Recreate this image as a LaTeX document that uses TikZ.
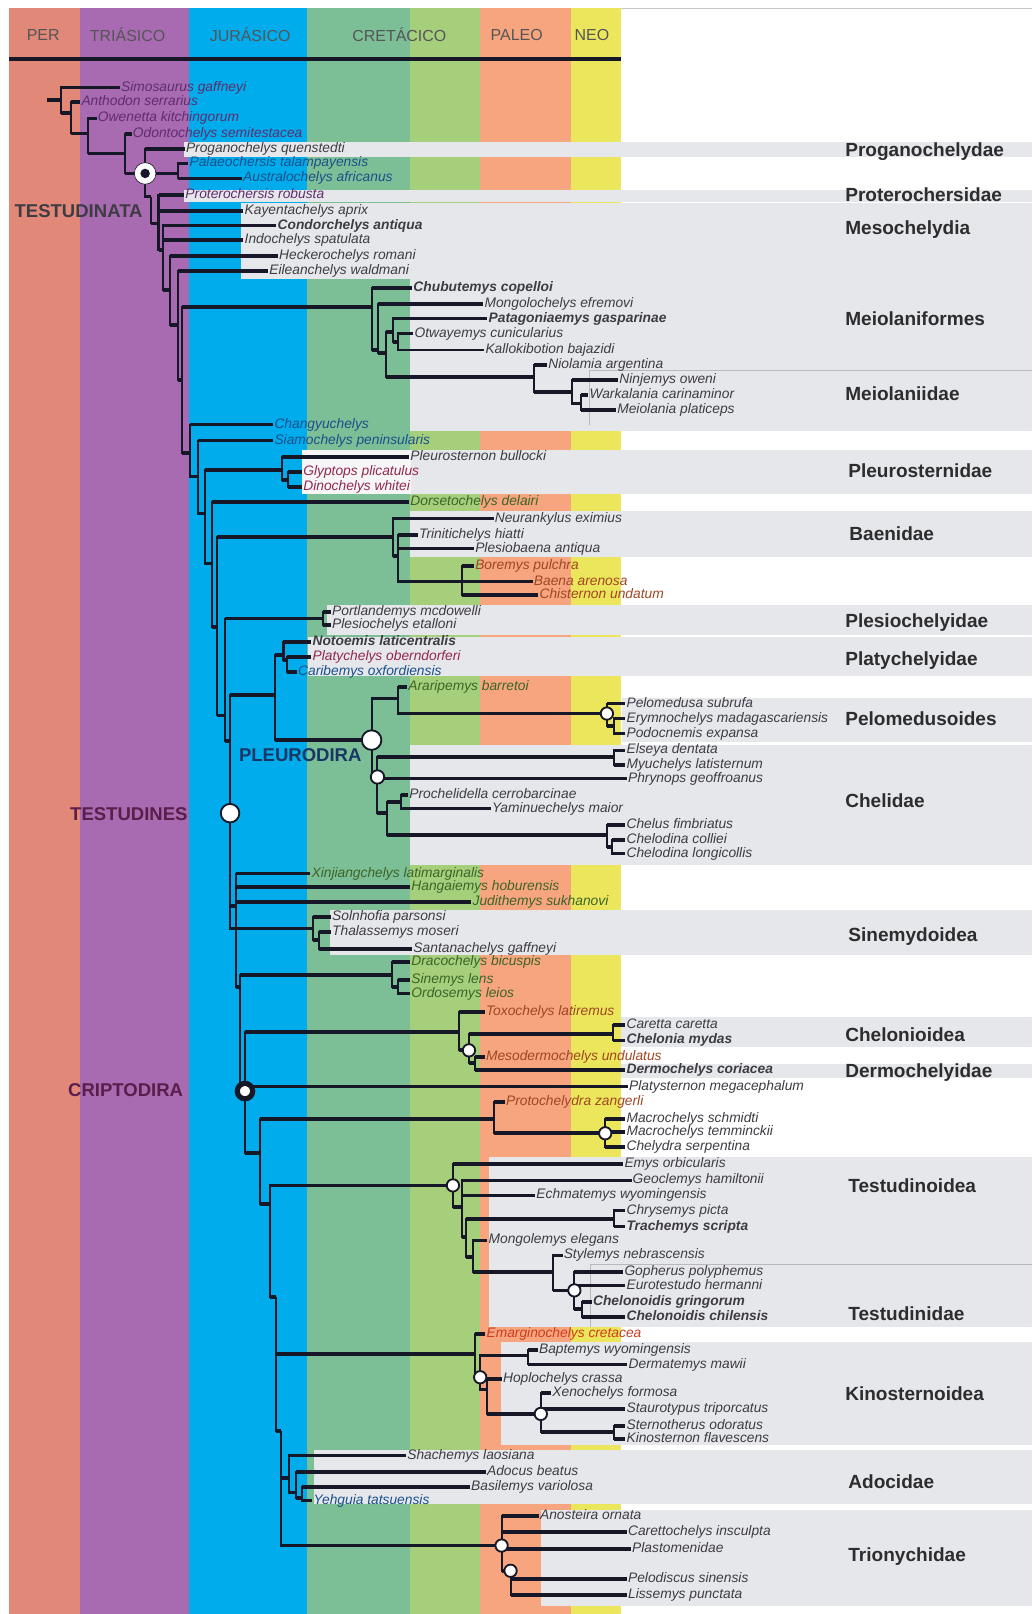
\documentclass[tikz,border=0pt]{standalone}
\usepackage{fontspec}
\setmainfont{Liberation Sans}
\definecolor{cper}{RGB}{226,136,120}
\definecolor{ctri}{RGB}{168,106,176}
\definecolor{cjur}{RGB}{0,172,236}
\definecolor{ccra}{RGB}{124,190,150}
\definecolor{ccrb}{RGB}{166,207,124}
\definecolor{cpal}{RGB}{246,165,127}
\definecolor{cneo}{RGB}{236,230,92}
\definecolor{cgry}{RGB}{230,231,234}
\definecolor{cwht}{RGB}{246,246,247}
\definecolor{lc}{RGB}{22,24,40}
\definecolor{txd}{RGB}{60,60,66}
\definecolor{txp}{RGB}{95,45,110}
\definecolor{txb}{RGB}{25,80,140}
\definecolor{txg}{RGB}{60,100,40}
\definecolor{txo}{RGB}{160,70,35}
\definecolor{txr}{RGB}{145,40,80}
\definecolor{txe}{RGB}{205,60,30}
\definecolor{txc}{RGB}{45,45,48}
\definecolor{txh}{RGB}{85,85,88}
\definecolor{txm}{RGB}{90,30,75}
\definecolor{txn}{RGB}{25,55,100}
\tikzset{
 vt/.style={draw=lc, line width=2pt},
 hz/.style={draw=lc, line width=3.6pt},
 lab/.style={anchor=west, inner sep=1pt, text height=9.6pt, text depth=2.6pt, font=\fontsize{13.4}{15}\selectfont\itshape, text=txd},
 labb/.style={lab, font=\fontsize{13.4}{15}\selectfont\itshape\bfseries},
 clade/.style={anchor=west, inner sep=0pt, text height=13.3pt, text depth=2.3pt, font=\fontsize{18.5}{20}\selectfont\bfseries, text=txc},
 grp/.style={anchor=west, inner sep=0pt, text height=13pt, text depth=0pt, font=\fontsize{18}{20}\selectfont\bfseries},
 hdr/.style={inner sep=0pt, font=\fontsize{15.5}{17}\selectfont, text=txh},
 dot/.style={circle, draw=lc, fill=white, line width=1.8pt, inner sep=0pt, minimum size=#1},
}
\newcommand{\tedge}[2]{\draw[vt] (#1) |- (#2);\draw[hz] (#1 |- #2) -- (#2);}
\newcommand{\nedge}[2]{\draw[vt] (#1) |- (#2);}
\begin{document}
\begin{tikzpicture}[x=1pt,y=-1pt]
\useasboundingbox (0,0) rectangle (1003,1568);
\fill[white] (0,0) rectangle (1003,1568);
% time bands
\fill[cper] (9,8) rectangle (78,1568);
\fill[ctri] (78,8) rectangle (184,1568);
\fill[cjur] (184,8) rectangle (298,1568);
\fill[ccra] (298,8) rectangle (398,1568);
\fill[ccrb] (398,8) rectangle (466,1568);
\fill[cpal] (466,8) rectangle (555,1568);
\fill[cneo] (555,8) rectangle (603,1568);
\draw[gray!45, line width=0.8pt] (603,8.4) -- (1003,8.4);
% clade boxes
\fill[cgry] (179,138) rectangle (1003,152.5);
\fill[cgry] (179,184.5) rectangle (1003,196);
\fill[cgry] (234,197.5) rectangle (1003,271);
\fill[cgry] (398,271) rectangle (1003,419);
\fill[cwht] (293,437) rectangle (399,480);
\fill[cgry] (399,437) rectangle (1003,480);
\fill[cgry] (398,496) rectangle (1003,541);
\fill[cgry] (318,588) rectangle (1003,616.5);
\fill[cgry] (299,618.5) rectangle (1003,656.5);
\fill[cgry] (604,678.5) rectangle (1003,720.5);
\fill[cgry] (398,724) rectangle (1003,840);
\fill[cgry] (321,884.5) rectangle (1003,928);
\fill[cgry] (603.5,988) rectangle (1003,1017);
\fill[cgry] (603.5,1034) rectangle (1003,1047);
\fill[cgry] (475,1124) rectangle (1003,1289);
\fill[cgry] (487,1304) rectangle (1003,1404);
\fill[cgry] (305,1409) rectangle (1003,1461);
\fill[cgry] (526,1467) rectangle (1003,1560);
\draw[gray!55, line width=0.8pt] (1003,360) -- (573,360) -- (573,413);
\draw[gray!55, line width=0.8pt] (1003,1228) -- (574,1228) -- (574,1289);
% header
\node[hdr] (hper) at (42,34) {PER};
\node[hdr] (htri) at (124,34) {TRIÁSICO};
\node[hdr] (hjur) at (243,34) {JURÁSICO};
\node[hdr] (hcre) at (388,34) {CRETÁCICO};
\node[hdr] (hpal) at (502,34) {PALEO};
\node[hdr] (hneo) at (575,34) {NEO};
\draw[draw=lc, line width=3.8pt] (9,57.5) -- (603,57.5);
% clade names (right)
\node[clade] (kA) at (821,147) {Proganochelydae};
\node[clade] (kB) at (821,190) {Proterochersidae};
\node[clade] (kC) at (821,222) {Mesochelydia};
\node[clade] (kD) at (821,311) {Meiolaniformes};
\node[clade] (kE) at (821,384) {Meiolaniidae};
\node[clade] (kF) at (824,458) {Pleurosternidae};
\node[clade] (kG) at (825,520) {Baenidae};
\node[clade] (kH) at (821,604) {Plesiochelyidae};
\node[clade] (kI) at (821,641) {Platychelyidae};
\node[clade] (kJ) at (821,699) {Pelomedusoides};
\node[clade] (kK) at (821,779) {Chelidae};
\node[clade] (kL) at (824,909) {Sinemydoidea};
\node[clade] (kM) at (821,1006) {Chelonioidea};
\node[clade] (kN) at (821,1041) {Dermochelyidae};
\node[clade] (kO) at (824,1153) {Testudinoidea};
\node[clade] (kP) at (824,1277) {Testudinidae};
\node[clade] (kQ) at (821,1355) {Kinosternoidea};
\node[clade] (kR) at (824,1441) {Adocidae};
\node[clade] (kS) at (824,1511) {Trionychidae};
% big group labels
\node[grp, text=txd] (gA) at (14,205) {TESTUDINATA};
\node[grp, text=txm] (gB) at (68,791) {TESTUDINES};
\node[grp, text=txn] (gC) at (232,733) {PLEURODIRA};
\node[grp, text=txm] (gD) at (66,1059) {CRIPTODIRA};
% internal nodes
\coordinate (root) at (45.5,97);
\coordinate (R0) at (59.5,97);
\coordinate (R1) at (69.4,110);
\coordinate (R2) at (85.3,129.6);
\coordinate (R3) at (121,149);
\coordinate (E) at (141,168.5);
\coordinate (PA) at (172.6,168.5);
\coordinate (F) at (147,191);
\coordinate (F2) at (154,217);
\coordinate (F3) at (158.7,243);
\coordinate (F4) at (165,282);
\coordinate (F5) at (173.3,316);
\coordinate (F6) at (176.6,369);
\coordinate (M1) at (361,298);
\coordinate (M2) at (367.6,340);
\coordinate (M3) at (374.6,343);
\coordinate (M4) at (381.7,322.3);
\coordinate (M4b) at (386.9,332);
\coordinate (M5) at (518.9,366);
\coordinate (M6) at (555.5,380.6);
\coordinate (M7) at (564.2,392);
\coordinate (F7) at (184.6,440);
\coordinate (F8) at (192.7,463);
\coordinate (F9) at (199,499);
\coordinate (PS) at (273.7,456.8);
\coordinate (GD) at (280.2,466.5);
\coordinate (F10) at (205.7,547.5);
\coordinate (F11) at (210.6,609);
\coordinate (BA1) at (381.7,521.5);
\coordinate (BA2) at (387.1,540);
\coordinate (BB) at (448.6,565);
\coordinate (F12) at (218.7,695);
\coordinate (PY) at (314,601);
\coordinate (T) at (223.5,720);
\coordinate (PL0) at (267.3,675.4);
\coordinate (PC1) at (275.4,636.5);
\coordinate (PC2) at (278.6,641.4);
\coordinate (PL) at (361,719);
\coordinate (PE1) at (387.1,678.6);
\coordinate (PE2) at (589.6,693.2);
\coordinate (PE3) at (596.3,705);
\coordinate (CE) at (366.7,754.8);
\coordinate (EM) at (596.3,735.3);
\coordinate (CE2) at (376,790);
\coordinate (PR) at (389.9,779);
\coordinate (CC) at (590,811.5);
\coordinate (CC2) at (594.3,823);
\coordinate (CU) at (229,880);
\coordinate (SI) at (303.8,902);
\coordinate (SI2) at (309.6,913);
\coordinate (CU2) at (233,959);
\coordinate (DR) at (380.7,947);
\coordinate (DR2) at (386.4,959);
\coordinate (CR) at (238,1060);
\coordinate (CH1) at (446,1002.6);
\coordinate (CH2) at (455.6,1020.4);
\coordinate (CM) at (595.7,1004.2);
\coordinate (CH3) at (461.3,1033);
\coordinate (CR2) at (253,1120);
\coordinate (CD) at (480.3,1086.8);
\coordinate (CD2) at (588,1101);
\coordinate (CR3) at (262,1170);
\coordinate (TE1) at (440,1151.6);
\coordinate (TE2) at (449,1172.7);
\coordinate (TE3) at (452.6,1201.8);
\coordinate (CT) at (596.6,1184);
\coordinate (TE4) at (459.6,1221);
\coordinate (TD) at (537.6,1236);
\coordinate (TD2) at (558,1253.6);
\coordinate (CN) at (565.4,1272);
\coordinate (CR4) at (268,1260);
\coordinate (K1) at (461.2,1315.2);
\coordinate (K2) at (466.5,1338);
\coordinate (BD) at (513.3,1316.8);
\coordinate (K3) at (473.3,1350);
\coordinate (K4) at (525.4,1373.6);
\coordinate (SK) at (596.6,1391.3);
\coordinate (CR5) at (273,1390);
\coordinate (AD1) at (281,1436);
\coordinate (AD2) at (287.7,1450);
\coordinate (AD3) at (293,1455);
\coordinate (TR1) at (487.3,1501.5);
\coordinate (TR2) at (496,1526);
% taxa
\node[lab,text=txp] (simo) at (116.5,85) {Simosaurus gaffneyi};
\node[lab,text=txp] (anth) at (78,98.8) {Anthodon serrarius};
\node[lab,text=txp] (owen) at (94,115) {Owenetta kitchingorum};
\node[lab,text=txp] (odon) at (128,130) {Odontochelys semitestacea};
\node[lab] (prog) at (179.5,144.5) {Proganochelys quenstedti};
\node[lab,text=txb] (pala) at (183,158.7) {Palaeochersis talampayensis};
\node[lab,text=txb] (aust) at (235,173.3) {Australochelys africanus};
\node[lab,text=txp] (prot) at (179,189.5) {Proterochersis robusta};
\node[lab] (kay) at (236.5,205) {Kayentachelys aprix};
\node[labb] (cond) at (268.5,219) {Condorchelys antiqua};
\node[lab] (indo) at (236.5,233.5) {Indochelys spatulata};
\node[lab] (heck) at (270,249) {Heckerochelys romani};
\node[lab] (eile) at (260.5,263.5) {Eileanchelys waldmani};
\node[labb] (chub) at (400.5,280) {Chubutemys copelloi};
\node[lab] (mong) at (469.5,295) {Mongolochelys efremovi};
\node[labb] (pata) at (473.5,309.4) {Patagoniaemys gasparinae};
\node[lab] (otwa) at (401.5,324) {Otwayemys cunicularius};
\node[lab] (kall) at (470.5,340) {Kallokibotion bajazidi};
\node[lab] (niol) at (531.5,354.7) {Niolamia argentina};
\node[lab] (ninj) at (600.5,369.3) {Ninjemys oweni};
\node[lab] (wark) at (571.5,384) {Warkalania carinaminor};
\node[lab] (meio) at (598.5,398.4) {Meiolania platiceps};
\node[lab,text=txb] (chan) at (265.5,412.5) {Changyuchelys};
\node[lab,text=txb] (siam) at (265.5,428) {Siamochelys peninsularis};
\node[lab] (pleu) at (397.5,443.8) {Pleurosternon bullocki};
\node[lab,text=txr] (glyp) at (293.5,458.4) {Glyptops plicatulus};
\node[lab,text=txr] (dino) at (293.5,473) {Dinochelys whitei};
\node[lab,text=txg] (dors) at (397.5,487.5) {Dorsetochelys delairi};
\node[lab] (neur) at (479.5,503.7) {Neurankylus eximius};
\node[lab] (trin) at (406,519.5) {Trinitichelys hiatti};
\node[lab] (ples) at (460.5,532.9) {Plesiobaena antiqua};
\node[lab,text=txo] (bore) at (460.5,549.6) {Boremys pulchra};
\node[lab,text=txo] (baen) at (517.5,565) {Baena arenosa};
\node[lab,text=txo] (chis) at (523,578) {Chisternon undatum};
\node[lab] (port) at (321.5,594.4) {Portlandemys mcdowelli};
\node[lab] (plsc) at (321.5,607.4) {Plesiochelys etalloni};
\node[labb] (noto) at (302.5,623.6) {Notoemis laticentralis};
\node[lab,text=txr] (plat) at (302.5,638.2) {Platychelys oberndorferi};
\node[lab,text=txb] (cari) at (288.5,652.7) {Caribemys oxfordiensis};
\node[lab,text=txg] (arar) at (395.5,667.3) {Araripemys barretoi};
\node[lab] (pelo) at (607.5,683.5) {Pelomedusa subrufa};
\node[lab] (erym) at (607.5,698) {Erymnochelys madagascariensis};
\node[lab] (podo) at (607.5,712.7) {Podocnemis expansa};
\node[lab] (else) at (607.5,729) {Elseya dentata};
\node[lab] (myuc) at (607.5,743.4) {Myuchelys latisternum};
\node[lab] (phry) at (609,756.4) {Phrynops geoffroanus};
\node[lab] (proc) at (396.5,772.6) {Prochelidella cerrobarcinae};
\node[lab] (yami) at (477,785.5) {Yaminuechelys maior};
\node[lab] (chel) at (607.5,801.7) {Chelus fimbriatus};
\node[lab] (chco) at (607.5,816.3) {Chelodina colliei};
\node[lab] (chlo) at (607.5,829.3) {Chelodina longicollis};
\node[lab,text=txg] (xinj) at (301.5,848.7) {Xinjiangchelys latimarginalis};
\node[lab,text=txg] (hang) at (398.5,861.7) {Hangaiemys hoburensis};
\node[lab,text=txg] (judi) at (458,876) {Judithemys sukhanovi};
\node[lab] (soln) at (321.5,890.8) {Solnhofia parsonsi};
\node[lab] (thal) at (321.5,905.4) {Thalassemys moseri};
\node[lab] (sant) at (400.5,921.6) {Santanachelys gaffneyi};
\node[lab,text=txg] (drac) at (398.5,934.6) {Dracochelys bicuspis};
\node[lab,text=txg] (sine) at (398.5,952.4) {Sinemys lens};
\node[lab,text=txg] (ordo) at (398.5,965.3) {Ordosemys leios};
\node[lab,text=txo] (toxo) at (471,983.2) {Toxochelys latiremus};
\node[lab] (care) at (607.5,995.5) {Caretta caretta};
\node[labb] (chmy) at (607.5,1010.7) {Chelonia mydas};
\node[lab,text=txo] (meso) at (471,1026.9) {Mesodermochelys undulatus};
\node[labb] (derm) at (607.5,1039.8) {Dermochelys coriacea};
\node[lab] (plsn) at (610,1055.5) {Platysternon megacephalum};
\node[lab,text=txo] (proz) at (490.5,1070.6) {Protochelydra zangerli};
\node[lab] (masc) at (607.5,1086.8) {Macrochelys schmidti};
\node[lab] (mate) at (607.5,1099.8) {Macrochelys temminckii};
\node[lab] (chse) at (607.5,1114.4) {Chelydra serpentina};
\node[lab] (emys) at (605.5,1130.5) {Emys orbicularis};
\node[lab] (geoc) at (613.5,1146.7) {Geoclemys hamiltonii};
\node[lab] (echm) at (520,1161.3) {Echmatemys wyomingensis};
\node[lab] (chry) at (607.5,1176) {Chrysemys picta};
\node[labb] (trac) at (607.5,1191.5) {Trachemys scripta};
\node[lab] (mngl) at (473.5,1205) {Mongolemys elegans};
\node[lab] (styl) at (546.5,1219.6) {Stylemys nebrascensis};
\node[lab] (goph) at (605.5,1235.8) {Gopherus polyphemus};
\node[lab] (euro) at (607.5,1248.8) {Eurotestudo hermanni};
\node[labb] (chgr) at (575,1265) {Chelonoidis gringorum};
\node[labb] (chch) at (607.5,1279.6) {Chelonoidis chilensis};
\node[lab,text=txe] (emar) at (471.5,1295.7) {Emarginochelys cretacea};
\node[lab] (bapt) at (522.5,1311.5) {Baptemys wyomingensis};
\node[lab] (dmaw) at (609.5,1325.5) {Dermatemys mawii};
\node[lab] (hopl) at (487.5,1339.5) {Hoplochelys crassa};
\node[lab] (xeno) at (535.5,1353) {Xenochelys formosa};
\node[lab] (stau) at (607.5,1368.8) {Staurotypus triporcatus};
\node[lab] (ster) at (607.5,1385.5) {Sternotherus odoratus};
\node[lab] (kino) at (607.5,1398) {Kinosternon flavescens};
\node[lab] (shac) at (394.5,1414) {Shachemys laosiana};
\node[lab] (adoc) at (472,1430) {Adocus beatus};
\node[lab] (basi) at (456.5,1444.8) {Basilemys variolosa};
\node[lab,text=txb] (yehg) at (303.5,1457.7) {Yehguia tatsuensis};
\node[lab] (anos) at (523.5,1472.8) {Anosteira ornata};
\node[lab] (cart) at (609,1488.5) {Carettochelys insculpta};
\node[lab] (plas) at (613,1504.5) {Plastomenidae};
\node[lab] (peld) at (609,1534.2) {Pelodiscus sinensis};
\node[lab] (liss) at (609,1549.3) {Lissemys punctata};
% branches
\draw[hz] (root) -- (R0);
\tedge{R0}{simo} \tedge{R0}{R1}
\tedge{R1}{anth} \tedge{R1}{R2}
\tedge{R2}{owen} \tedge{R2}{R3}
\tedge{R3}{odon} \tedge{R3}{E}
\tedge{E}{prog} \tedge{E}{PA} \tedge{E}{F}
\tedge{PA}{pala} \tedge{PA}{aust}
\tedge{F}{F2}
\tedge{F2}{prot} \tedge{F2}{kay} \tedge{F2}{F3}
\tedge{F3}{cond} \tedge{F3}{indo} \tedge{F3}{F4}
\tedge{F4}{heck} \tedge{F4}{F5}
\tedge{F5}{eile} \tedge{F5}{F6}
\tedge{F6}{M1} \tedge{F6}{F7}
\tedge{M1}{chub} \tedge{M1}{M2}
\tedge{M2}{mong} \tedge{M2}{M3}
\tedge{M3}{M4} \tedge{M3}{M5}
\tedge{M4}{pata} \tedge{M4}{M4b}
\tedge{M4b}{otwa} \nedge{M4b}{kall}
\tedge{M5}{niol} \tedge{M5}{M6}
\tedge{M6}{ninj} \tedge{M6}{M7}
\tedge{M7}{wark} \tedge{M7}{meio}
\tedge{F7}{chan} \tedge{F7}{F8}
\tedge{F8}{siam} \tedge{F8}{F9}
\tedge{F9}{PS} \tedge{F9}{F10}
\tedge{PS}{pleu} \tedge{PS}{GD}
\tedge{GD}{glyp} \tedge{GD}{dino}
\tedge{F10}{dors} \tedge{F10}{F11}
\tedge{F11}{BA1} \tedge{F11}{F12}
\tedge{BA1}{neur} \tedge{BA1}{BA2}
\tedge{BA2}{trin} \tedge{BA2}{ples} \tedge{BA2}{BB}
\tedge{BB}{bore} \tedge{BB}{baen} \tedge{BB}{chis}
\tedge{F12}{PY} \tedge{F12}{T}
\tedge{PY}{port} \tedge{PY}{plsc}
\tedge{T}{PL0} \tedge{T}{CU} \tedge{T}{SI}
\tedge{PL0}{PC1} \tedge{PL0}{PL}
\tedge{PC1}{noto} \tedge{PC1}{PC2}
\tedge{PC2}{plat} \tedge{PC2}{cari}
\tedge{PL}{PE1} \tedge{PL}{CE}
\tedge{PE1}{arar} \tedge{PE1}{PE2}
\tedge{PE2}{pelo} \tedge{PE2}{PE3}
\tedge{PE3}{erym} \tedge{PE3}{podo}
\tedge{CE}{EM} \tedge{CE}{phry} \tedge{CE}{CE2}
\tedge{EM}{else} \tedge{EM}{myuc}
\tedge{CE2}{PR} \tedge{CE2}{CC}
\tedge{PR}{proc} \tedge{PR}{yami}
\tedge{CC}{chel} \tedge{CC}{CC2}
\tedge{CC2}{chco} \tedge{CC2}{chlo}
\tedge{CU}{xinj} \tedge{CU}{hang} \tedge{CU}{judi} \tedge{CU}{CU2}
\tedge{SI}{soln} \tedge{SI}{SI2}
\tedge{SI2}{thal} \tedge{SI2}{sant}
\tedge{CU2}{DR} \tedge{CU2}{CR}
\tedge{DR}{drac} \tedge{DR}{DR2}
\tedge{DR2}{sine} \tedge{DR2}{ordo}
\tedge{CR}{CH1} \tedge{CR}{plsn} \tedge{CR}{CR2}
\tedge{CH1}{toxo} \tedge{CH1}{CH2}
\tedge{CH2}{CM} \tedge{CH2}{CH3}
\tedge{CM}{care} \tedge{CM}{chmy}
\tedge{CH3}{meso} \tedge{CH3}{derm}
\tedge{CR2}{CD} \tedge{CR2}{CR3}
\tedge{CD}{proz} \tedge{CD}{CD2}
\tedge{CD2}{masc} \tedge{CD2}{mate} \tedge{CD2}{chse}
\tedge{CR3}{TE1} \tedge{CR3}{CR4}
\tedge{TE1}{emys} \tedge{TE1}{TE2}
\tedge{TE2}{geoc} \tedge{TE2}{echm} \tedge{TE2}{TE3}
\tedge{TE3}{CT} \tedge{TE3}{TE4}
\tedge{CT}{chry} \tedge{CT}{trac}
\tedge{TE4}{mngl} \tedge{TE4}{TD}
\tedge{TD}{styl} \tedge{TD}{TD2}
\tedge{TD2}{goph} \tedge{TD2}{euro} \tedge{TD2}{CN}
\tedge{CN}{chgr} \tedge{CN}{chch}
\tedge{CR4}{K1} \tedge{CR4}{CR5}
\tedge{K1}{emar} \tedge{K1}{K2}
\tedge{K2}{BD} \tedge{K2}{K3}
\tedge{BD}{bapt} \tedge{BD}{dmaw}
\tedge{K3}{hopl} \tedge{K3}{K4}
\tedge{K4}{xeno} \tedge{K4}{stau} \tedge{K4}{SK}
\tedge{SK}{ster} \tedge{SK}{kino}
\tedge{CR5}{AD1} \tedge{CR5}{TR1}
\tedge{AD1}{shac} \tedge{AD1}{AD2}
\tedge{AD2}{adoc} \tedge{AD2}{AD3}
\tedge{AD3}{basi} \tedge{AD3}{yehg}
\tedge{TR1}{anos} \tedge{TR1}{cart} \tedge{TR1}{plas} \tedge{TR1}{TR2}
\tedge{TR2}{peld} \tedge{TR2}{liss}
% node markers
\node[circle, draw=lc, fill=white, line width=0.6pt, inner sep=0pt, minimum size=21pt] (cE) at (E) {};
\fill[lc] (E) circle (4.6pt);
\node[dot=18] (cT) at (223.5,790) {};
\node[dot=19] (cPL) at (PL) {};
\node[dot=13] (cCE) at (CE) {};
\node[circle, draw=lc, fill=white, line width=5pt, inner sep=0pt, minimum size=15pt] (cCR) at (CR) {};
\node[dot=12] (cPE2) at (PE2) {};
\node[dot=12] (cCH2) at (CH2) {};
\node[dot=12] (cCD2) at (CD2) {};
\node[dot=12] (cTE1) at (TE1) {};
\node[dot=12] (cTD2) at (TD2) {};
\node[dot=12] (cK2) at (K2) {};
\node[dot=12] (cK4) at (K4) {};
\node[dot=12] (cTR1) at (TR1) {};
\node[dot=12] (cTR2) at (TR2) {};
\end{tikzpicture}
\end{document}
